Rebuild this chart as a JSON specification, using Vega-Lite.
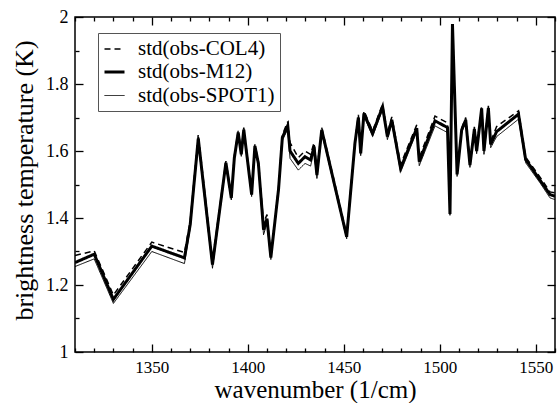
{
  "$schema": "https://vega.github.io/schema/vega-lite/v6.json",
  "width": 480,
  "height": 335,
  "autosize": {"type": "none"},
  "padding": {"left": 75, "top": 17, "right": 4, "bottom": 51},
  "background": "white",
  "data": {
    "values": [
      {"w": 1310, "col4": 1.288, "m12": 1.267, "spot1": 1.255},
      {"w": 1320, "col4": 1.302, "m12": 1.292, "spot1": 1.278},
      {"w": 1330, "col4": 1.170, "m12": 1.157, "spot1": 1.145},
      {"w": 1350, "col4": 1.328, "m12": 1.316, "spot1": 1.300},
      {"w": 1367, "col4": 1.297, "m12": 1.281, "spot1": 1.264},
      {"w": 1370, "col4": 1.390, "m12": 1.380, "spot1": 1.370},
      {"w": 1374.2, "col4": 1.650, "m12": 1.637, "spot1": 1.625},
      {"w": 1381.6, "col4": 1.272, "m12": 1.261, "spot1": 1.250},
      {"w": 1388.6, "col4": 1.570, "m12": 1.565, "spot1": 1.558},
      {"w": 1391.4, "col4": 1.466, "m12": 1.460, "spot1": 1.454},
      {"w": 1393, "col4": 1.586, "m12": 1.580, "spot1": 1.574},
      {"w": 1395, "col4": 1.660, "m12": 1.655, "spot1": 1.650},
      {"w": 1396.6, "col4": 1.596, "m12": 1.590, "spot1": 1.584},
      {"w": 1397.9, "col4": 1.670, "m12": 1.664, "spot1": 1.658},
      {"w": 1402, "col4": 1.476, "m12": 1.470, "spot1": 1.464},
      {"w": 1403.7, "col4": 1.620, "m12": 1.615, "spot1": 1.608},
      {"w": 1405.5, "col4": 1.570, "m12": 1.563, "spot1": 1.556},
      {"w": 1408.2, "col4": 1.385, "m12": 1.365, "spot1": 1.350},
      {"w": 1410, "col4": 1.410, "m12": 1.398, "spot1": 1.385},
      {"w": 1412, "col4": 1.288, "m12": 1.282, "spot1": 1.276},
      {"w": 1416, "col4": 1.492, "m12": 1.485, "spot1": 1.478},
      {"w": 1418, "col4": 1.648, "m12": 1.640, "spot1": 1.632},
      {"w": 1420.8, "col4": 1.688, "m12": 1.676, "spot1": 1.665},
      {"w": 1422, "col4": 1.625, "m12": 1.600, "spot1": 1.578},
      {"w": 1426.3, "col4": 1.580, "m12": 1.563, "spot1": 1.543},
      {"w": 1429.8, "col4": 1.600, "m12": 1.583, "spot1": 1.563},
      {"w": 1432.7, "col4": 1.590, "m12": 1.573, "spot1": 1.555},
      {"w": 1434.5, "col4": 1.625, "m12": 1.613, "spot1": 1.600},
      {"w": 1436, "col4": 1.540, "m12": 1.528, "spot1": 1.518},
      {"w": 1438.5, "col4": 1.670, "m12": 1.663, "spot1": 1.655},
      {"w": 1451.5, "col4": 1.350, "m12": 1.344, "spot1": 1.338},
      {"w": 1455.8, "col4": 1.630, "m12": 1.623, "spot1": 1.616},
      {"w": 1457.6, "col4": 1.708, "m12": 1.700, "spot1": 1.692},
      {"w": 1458.8, "col4": 1.600, "m12": 1.593, "spot1": 1.586},
      {"w": 1460.5, "col4": 1.720, "m12": 1.712, "spot1": 1.704},
      {"w": 1465, "col4": 1.660, "m12": 1.652, "spot1": 1.644},
      {"w": 1470.2, "col4": 1.740, "m12": 1.732, "spot1": 1.724},
      {"w": 1472.7, "col4": 1.652, "m12": 1.643, "spot1": 1.634},
      {"w": 1475, "col4": 1.702, "m12": 1.693, "spot1": 1.684},
      {"w": 1479.6, "col4": 1.560, "m12": 1.548, "spot1": 1.537},
      {"w": 1488, "col4": 1.678, "m12": 1.668, "spot1": 1.658},
      {"w": 1489.3, "col4": 1.580, "m12": 1.568, "spot1": 1.556},
      {"w": 1497.5, "col4": 1.704, "m12": 1.690, "spot1": 1.675},
      {"w": 1504, "col4": 1.684, "m12": 1.670, "spot1": 1.655},
      {"w": 1505.3, "col4": 1.416, "m12": 1.412, "spot1": 1.408},
      {"w": 1506.6, "col4": 1.981, "m12": 1.979, "spot1": 1.977},
      {"w": 1509, "col4": 1.536, "m12": 1.530, "spot1": 1.524},
      {"w": 1511.4, "col4": 1.668, "m12": 1.663, "spot1": 1.656},
      {"w": 1513.5, "col4": 1.700, "m12": 1.693, "spot1": 1.686},
      {"w": 1515.7, "col4": 1.565, "m12": 1.558, "spot1": 1.551},
      {"w": 1518, "col4": 1.672, "m12": 1.665, "spot1": 1.658},
      {"w": 1519.2, "col4": 1.608, "m12": 1.600, "spot1": 1.592},
      {"w": 1521.8, "col4": 1.734, "m12": 1.727, "spot1": 1.720},
      {"w": 1523, "col4": 1.607, "m12": 1.600, "spot1": 1.590},
      {"w": 1525.3, "col4": 1.735, "m12": 1.728, "spot1": 1.721},
      {"w": 1526.5, "col4": 1.628, "m12": 1.620, "spot1": 1.610},
      {"w": 1529.6, "col4": 1.673, "m12": 1.658, "spot1": 1.643},
      {"w": 1541, "col4": 1.720, "m12": 1.710, "spot1": 1.695},
      {"w": 1544.7, "col4": 1.582, "m12": 1.575, "spot1": 1.565},
      {"w": 1552.2, "col4": 1.522, "m12": 1.513, "spot1": 1.505},
      {"w": 1557.4, "col4": 1.478, "m12": 1.470, "spot1": 1.460},
      {"w": 1560, "col4": 1.475, "m12": 1.465, "spot1": 1.455}
    ]
  },
  "transform": [
    {"fold": ["col4", "m12", "spot1"], "as": ["series", "v"]}
  ],
  "layer": [
    {
      "mark": {"type": "line", "color": "black", "clip": true},
      "encoding": {
        "x": {
          "field": "w", "type": "quantitative",
          "scale": {"domain": [1310, 1560], "nice": false, "zero": false},
          "axis": {
            "orient": "bottom",
            "values": [1350, 1400, 1450, 1500, 1550],
            "offset": -8,
            "tickSize": 8,
            "domain": false,
            "format": "d",
            "labelPadding": 7,
            "labelFontSize": 17,
            "labelFlush": false,
            "title": "wavenumber (1/cm)",
            "titleFontSize": 25,
            "titleY": 53,
            "titleBaseline": "alphabetic"
          }
        },
        "y": {
          "field": "v", "type": "quantitative",
          "scale": {"domain": [1, 2], "nice": false, "zero": false},
          "axis": {
            "orient": "left",
            "values": [1, 1.2, 1.4, 1.6, 1.8, 2],
            "offset": -8,
            "tickSize": 8,
            "domain": false,
            "format": "~g",
            "labelPadding": 7,
            "labelFlush": false,
            "title": "brightness temperature (K)",
            "titleX": -51,
            "titleY": 163,
            "titleBaseline": "alphabetic",
            "titleAlign": "center"
          }
        },
        "strokeDash": {
          "field": "series", "type": "nominal",
          "scale": {"type": "ordinal", "domain": ["col4", "m12", "spot1"], "range": [[6, 4], [1, 0], [1, 0]]},
          "legend": {
            "labelExpr": "{'col4': 'std(obs-COL4)', 'm12': 'std(obs-M12)', 'spot1': 'std(obs-SPOT1)'}[datum.label]"
          }
        },
        "strokeWidth": {
          "field": "series", "type": "nominal",
          "scale": {"type": "ordinal", "domain": ["col4", "m12", "spot1"], "range": [1.5, 3, 1]},
          "legend": {
            "labelExpr": "{'col4': 'std(obs-COL4)', 'm12': 'std(obs-M12)', 'spot1': 'std(obs-SPOT1)'}[datum.label]"
          }
        }
      }
    },
    {
      "mark": {"type": "point", "opacity": 0},
      "encoding": {
        "x": {
          "field": "w", "type": "quantitative",
          "scale": {"domain": [1310, 1560], "nice": false, "zero": false},
          "axis": {
            "orient": "bottom",
            "values": [1310, 1320, 1330, 1340, 1360, 1370, 1380, 1390, 1410, 1420, 1430, 1440, 1460, 1470, 1480, 1490, 1510, 1520, 1530, 1540, 1560],
            "offset": -4, "tickSize": 4, "labels": false, "domain": false, "title": null
          }
        },
        "y": {
          "field": "v", "type": "quantitative",
          "scale": {"domain": [1, 2], "nice": false, "zero": false},
          "axis": {
            "orient": "left",
            "values": [1.1, 1.3, 1.5, 1.7, 1.9],
            "offset": -4, "tickSize": 4, "labels": false, "domain": false, "title": null
          }
        }
      }
    },
    {
      "mark": {"type": "point", "opacity": 0},
      "encoding": {
        "x": {
          "field": "w", "type": "quantitative",
          "scale": {"domain": [1310, 1560], "nice": false, "zero": false},
          "axis": {
            "orient": "top",
            "values": [1350, 1400, 1450, 1500, 1550],
            "offset": -8, "tickSize": 8, "labels": false, "domain": false, "title": null
          }
        },
        "y": {
          "field": "v", "type": "quantitative",
          "scale": {"domain": [1, 2], "nice": false, "zero": false},
          "axis": {
            "orient": "right",
            "values": [1, 1.2, 1.4, 1.6, 1.8, 2],
            "offset": -8, "tickSize": 8, "labels": false, "domain": false, "title": null
          }
        }
      }
    },
    {
      "mark": {"type": "point", "opacity": 0},
      "encoding": {
        "x": {
          "field": "w", "type": "quantitative",
          "scale": {"domain": [1310, 1560], "nice": false, "zero": false},
          "axis": {
            "orient": "top",
            "values": [1310, 1320, 1330, 1340, 1360, 1370, 1380, 1390, 1410, 1420, 1430, 1440, 1460, 1470, 1480, 1490, 1510, 1520, 1530, 1540, 1560],
            "offset": -4, "tickSize": 4, "labels": false, "domain": false, "title": null
          }
        },
        "y": {
          "field": "v", "type": "quantitative",
          "scale": {"domain": [1, 2], "nice": false, "zero": false},
          "axis": {
            "orient": "right",
            "values": [1.1, 1.3, 1.5, 1.7, 1.9],
            "offset": -4, "tickSize": 4, "labels": false, "domain": false, "title": null
          }
        }
      }
    }
  ],
  "resolve": {"axis": {"x": "independent", "y": "independent"}},
  "config": {
    "view": {"stroke": "black", "strokeWidth": 1.5},
    "axis": {
      "grid": false,
      "domainColor": "black",
      "domainWidth": 1.5,
      "tickColor": "black",
      "tickWidth": 1.3,
      "labelFont": "Liberation Serif",
      "labelFontSize": 18,
      "labelColor": "black",
      "titleFont": "Liberation Serif",
      "titleFontSize": 26,
      "titleFontWeight": "normal",
      "titleColor": "black"
    },
    "legend": {
      "orient": "none",
      "legendX": 23,
      "legendY": 16,
      "title": null,
      "strokeColor": "#555555",
      "fillColor": "white",
      "padding": 5,
      "symbolType": "stroke",
      "symbolSize": 400,
      "symbolStrokeColor": "black",
      "labelFont": "Liberation Serif",
      "labelFontSize": 21,
      "labelColor": "black",
      "labelOffset": 12,
      "rowPadding": 1.5
    }
  }
}
